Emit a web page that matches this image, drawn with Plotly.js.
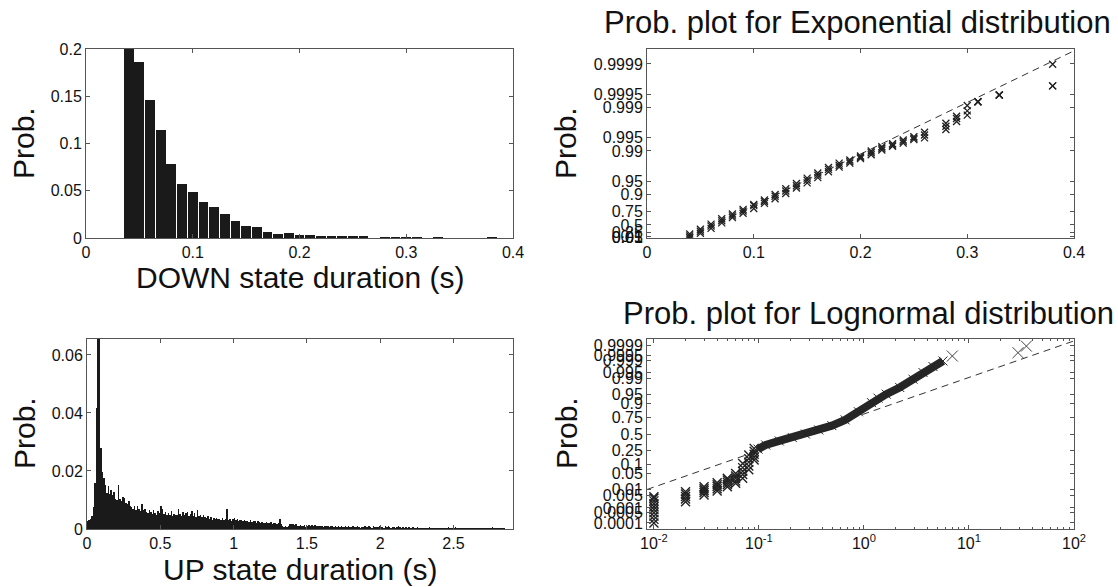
<!DOCTYPE html>
<html><head><meta charset="utf-8">
<script src="https://cdn.plot.ly/plotly-3.0.1.min.js"></script>
<style>html,body{margin:0;padding:0;background:#fff}#chart{width:1118px;height:587px}</style>
</head><body><div id="chart"></div>
<script>
// ---------- DOWN state duration histogram ----------
const downX = [0.04,0.05,0.06,0.07,0.08,0.09,0.10,0.11,0.12,0.13,0.14,0.15,0.16,0.17,0.18,0.19,0.20,0.21,0.22,0.23,0.24,0.25,0.26,0.28,0.29,0.30,0.31,0.33,0.38];
const downProb = [0.200,0.186,0.146,0.114,0.078,0.057,0.049,0.038,0.033,0.025,0.018,0.013,0.012,0.0067,0.0046,0.0050,0.0030,0.0030,0.0020,0.0018,0.0017,0.0017,0.0017,0.0015,0.0015,0.0012,0.0008,0.0008,0.0006];

// ---------- UP state duration histogram (bins of 0.01 s starting at 0.005) ----------
const upBinStart = 0.005, upBinWidth = 0.01;
const upProb = [
0.0028,0.0030,0.0034,0.0045,0.0075,0.0160,0.0416,0.0720,0.0800,0.0280,
0.0195,0.0175,0.0150,0.0125,0.0148,0.0120,0.0135,0.0118,0.0128,0.0105,
0.0100,0.0152,0.0105,0.0095,0.0110,0.0108,0.0090,0.0085,0.0095,0.0080,
0.0075,0.0068,0.0080,0.0065,0.0078,0.0070,0.0062,0.0085,0.0066,0.0070,
0.0060,0.0055,0.0064,0.0058,0.0052,0.0067,0.0055,0.0050,0.0062,0.0054,
0.0078,0.0070,0.0052,0.0060,0.0048,0.0055,0.0050,0.0062,0.0045,0.0052,
0.0050,0.0047,0.0070,0.0052,0.0045,0.0058,0.0048,0.0055,0.0060,0.0046,
0.0052,0.0062,0.0045,0.0055,0.0040,0.0065,0.0044,0.0050,0.0042,0.0048,
0.0040,0.0038,0.0045,0.0036,0.0042,0.0030,0.0039,0.0035,0.0037,0.0034,
0.0035,0.0032,0.0037,0.0030,0.0034,0.0068,0.0031,0.0036,0.0029,0.0033,
0.0038,0.0030,0.0034,0.0028,0.0032,0.0030,0.0027,0.0031,0.0026,0.0029,
0.0025,0.0030,0.0024,0.0028,0.0026,0.0022,0.0027,0.0024,0.0021,0.0025,
0.0022,0.0020,0.0024,0.0019,0.0021,0.0023,0.0018,0.0020,0.0022,0.0017,
0.0020,0.0036,0.0016,0.0010,0.0008,0.0009,0.0007,0.0012,0.0018,0.0016,
0.0017,0.0015,0.0018,0.0012,0.0010,0.0014,0.0009,0.0011,0.0013,0.0008,
0.0012,0.0014,0.0010,0.0013,0.0011,0.0015,0.0009,0.0012,0.0010,0.0011,
0.0010,0.0008,0.0012,0.0009,0.0011,0.0007,0.0010,0.0009,0.0006,0.0010,
0.0008,0.0010,0.0007,0.0009,0.0006,0.0008,0.0010,0.0007,0.0009,0.0006,
0.0007,0.0009,0.0006,0.0008,0.0010,0.0007,0.0005,0.0008,0.0006,0.0009,
0.0006,0.0008,0.0010,0.0007,0.0005,0.0009,0.0006,0.0008,0.0007,0.0012,
0.0006,0.0008,0.0005,0.0009,0.0007,0.0010,0.0006,0.0005,0.0008,0.0006,
0.0005,0.0007,0.0009,0.0006,0.0004,0.0008,0.0005,0.0007,0.0004,0.0006,
0.0005,0.0004,0.0006,0.0003,0.0005,0.0007,0.0004,0.0003,0.0005,0.0004,
0.0003,0.0005,0.0004,0.0006,0.0003,0.0002,0.0004,0.0005,0.0003,0.0004,
0.0004,0.0003,0.0005,0.0002,0.0004,0.0003,0.0006,0.0004,0.0003,0.0005,
0.0004,0.0007,0.0003,0.0004,0.0002,0.0005,0.0003,0.0004,0.0002,0.0003,
0.0004,0.0002,0.0003,0.0005,0.0003,0.0002,0.0004,0.0003,0.0002,0.0003,
0.0003,0.0004,0.0002,0.0003,0.0005,0.0003,0.0006,0.0003,0.0002,0.0004,
0.0003,0.0004,0.0005,0.0003,0.0002,0,0,0,0,0];

// ---------- Exponential probability plot ----------
const expX    = [0.04,0.05,0.06,0.07,0.08,0.09,0.10,0.11,0.12,0.13,0.14,0.15,0.16,0.17,0.18,0.19,0.20,0.21,0.22,0.23,0.24,0.25,0.26,0.28,0.29,0.30,0.31,0.33,0.38];
const expPlo  = [0.01,0.22,0.40,0.55,0.66,0.73,0.79,0.840,0.875,0.905,0.929,0.946,0.959,0.970,0.9765,0.9810,0.9850,0.9878,0.9905,0.9922,0.9934,0.9945,0.9950,0.9968,0.9979,0.9985,0.99926,0.99948,0.99968];
const expPmid = [0.10,0.30,0.47,0.60,0.69,0.76,0.82,0.855,0.890,0.917,0.937,0.953,0.964,0.9735,0.9787,0.9824,0.9860,0.9890,0.9913,0.9927,0.9939,0.9949,0.9957,0.9973,0.9982,0.9988,0.99926,0.99948,0.99968];
const expPhi  = [0.19,0.37,0.52,0.64,0.72,0.78,0.83,0.866,0.900,0.926,0.944,0.958,0.968,0.9760,0.9810,0.9838,0.9870,0.9900,0.9920,0.9932,0.9944,0.9953,0.9963,0.9977,0.9984,0.9991,0.99926,0.99948,0.999898];
const expFitX = [0.0375, 0.4];
const expFitP = [0, 0.99995];
const expTickP = [0.01,0.05,0.1,0.25,0.5,0.75,0.9,0.95,0.99,0.995,0.999,0.9995,0.9999];
const expTickText = ['0.01','0.05','0.1','0.25','0.5','0.75','0.9','0.95','0.99','0.995','0.999','0.9995','0.9999'];

// ---------- Lognormal probability plot ----------
const lnStepX = [0.01,0.01,0.01,0.01,0.01,0.01,0.01,0.01,0.01,0.01,
                 0.02,0.02,0.02,0.02,0.02, 0.03,0.03,0.03,0.03,0.03,
                 0.04,0.04,0.04,0.04,0.04, 0.05,0.05,0.05,0.05,0.05,
                 0.06,0.06,0.06,0.06,0.06, 0.07,0.07,0.07,0.07,0.07,
                 0.08,0.08,0.08,0.08,0.08, 0.09,0.09,0.09,0.09,0.09];
const lnStepP = [0.0001,0.00018,0.0003,0.0005,0.0008,0.0012,0.0018,0.0026,0.0036,0.0044,
                 0.0023,0.0033,0.0045,0.0060,0.0078, 0.0054,0.0072,0.0090,0.0112,0.0139,
                 0.0087,0.0110,0.0140,0.0170,0.0207, 0.0139,0.0175,0.0220,0.0270,0.0320,
                 0.0197,0.0250,0.0320,0.0400,0.0495, 0.032,0.045,0.060,0.080,0.109,
                 0.067,0.090,0.120,0.150,0.190, 0.138,0.165,0.200,0.235,0.274];
const lnCurveX = [0.098,0.116,0.156,0.208,0.277,0.371,0.495,0.662,0.885,1.18,1.36,1.63,2.19,2.93,3.65,4.54,5.65];
const lnCurveP = [0.264,0.323,0.386,0.440,0.500,0.567,0.637,0.722,0.824,0.905,0.933,0.952,0.974,0.989,0.9949,0.9976,0.99886];
const lnOutX = [6.94, 29.3, 35.2];
const lnOutP = [0.99944, 0.99966, 0.99988];
const lnFitX = [0.00859, 100];
const lnFitP = [0.0102, 0.99995];
const lnTickP = [0.0001,0.0005,0.001,0.005,0.01,0.05,0.1,0.25,0.5,0.75,0.9,0.95,0.99,0.995,0.999,0.9995,0.9999];
const lnTickText = ['0.0001','0.0005','0.001','0.005','0.01','0.05','0.1','0.25','0.5','0.75','0.9','0.95','0.99','0.995','0.999','0.9995','0.9999'];
const lnXTickVals = [0.01,0.1,1,10,100];
const lnXTickText = ['10<sup>-2</sup>','10<sup>-1</sup>','10<sup>0</sup>','10<sup>1</sup>','10<sup>2</sup>'];
const lnXMinor = [0.02,0.03,0.04,0.05,0.06,0.07,0.08,0.09,0.2,0.3,0.4,0.5,0.6,0.7,0.8,0.9,2,3,4,5,6,7,8,9,20,30,40,50,60,70,80,90];

// ---------- probability-paper scale transforms ----------
function expScale(p){ return -Math.log(1-p); }
function norminv(p){
  const a=[-3.969683028665376e+01,2.209460984245205e+02,-2.759285104469687e+02,1.383577518672690e+02,-3.066479806614716e+01,2.506628277459239e+00];
  const b=[-5.447609879822406e+01,1.615858368580409e+02,-1.556989798598866e+02,6.680131188771972e+01,-1.328068155288572e+01];
  const c=[-7.784894002430293e-03,-3.223964580411365e-01,-2.400758277161838e+00,-2.549732539343734e+00,4.374664141464968e+00,2.938163982698783e+00];
  const d=[7.784695709041462e-03,3.224671290700398e-01,2.445134137142996e+00,3.754408661907416e+00];
  const pl=0.02425, ph=1-pl; let q,r;
  if(p<pl){q=Math.sqrt(-2*Math.log(p));return (((((c[0]*q+c[1])*q+c[2])*q+c[3])*q+c[4])*q+c[5])/((((d[0]*q+d[1])*q+d[2])*q+d[3])*q+1);}
  if(p>ph){q=Math.sqrt(-2*Math.log(1-p));return -(((((c[0]*q+c[1])*q+c[2])*q+c[3])*q+c[4])*q+c[5])/((((d[0]*q+d[1])*q+d[2])*q+d[3])*q+1);}
  q=p-0.5;r=q*q;return (((((a[0]*r+a[1])*r+a[2])*r+a[3])*r+a[4])*r+a[5])*q/(((((b[0]*r+b[1])*r+b[2])*r+b[3])*r+b[4])*r+1);
}

const FONT = 'Liberation Sans, Arial, Helvetica, sans-serif';
const INK = '#1a1a1a';
const MK = '#222222';
function xm(size, w, col){ return {symbol:'x-thin-open', size:size, color:col||MK, line:{color:col||MK, width:w}}; }

const traces = [
  {type:'bar', x:downX, y:downProb, width:0.0092, marker:{color:INK, line:{width:0}}, xaxis:'x', yaxis:'y'},
  {type:'bar', x0:upBinStart, dx:upBinWidth, y:upProb, width:0.0102, marker:{color:INK, line:{width:0}}, xaxis:'x3', yaxis:'y3'},
  // exponential plot
  {type:'scatter', mode:'lines', x:expFitX, y:expFitP.map(expScale), line:{color:'#333', width:1, dash:'7px,5px'}, xaxis:'x2', yaxis:'y2'},
  {type:'scatter', mode:'markers', x:expX, y:expPlo.map(expScale), marker:xm(7,1.3), xaxis:'x2', yaxis:'y2'},
  {type:'scatter', mode:'markers', x:expX, y:expPmid.map(expScale), marker:xm(7,1.3), xaxis:'x2', yaxis:'y2'},
  {type:'scatter', mode:'markers', x:expX, y:expPhi.map(expScale), marker:xm(7,1.3), xaxis:'x2', yaxis:'y2'},
  // lognormal plot
  {type:'scatter', mode:'lines', x:lnFitX, y:lnFitP.map(norminv), line:{color:'#333', width:1, dash:'7px,5px'}, xaxis:'x4', yaxis:'y4'},
  {type:'scatter', mode:'lines+markers', x:lnCurveX, y:lnCurveP.map(norminv), line:{color:'#262626', width:8}, marker:xm(9,1), xaxis:'x4', yaxis:'y4'},
  {type:'scatter', mode:'markers', x:lnStepX, y:lnStepP.map(norminv), marker:xm(9,1.4), xaxis:'x4', yaxis:'y4'},
  {type:'scatter', mode:'markers', x:lnOutX, y:lnOutP.map(norminv), marker:xm(11,1,'#444'), xaxis:'x4', yaxis:'y4'}
];

const axBase = {showline:true, linecolor:'#555', linewidth:1, mirror:'ticks', ticks:'inside', ticklen:4, tickcolor:'#555',
  showgrid:false, zeroline:false, tickfont:{family:FONT, size:16, color:'#111'}, fixedrange:true};
function ax(o){ return Object.assign({}, axBase, o); }

const W = 1118, H = 587;
const px = v => v/W, py = v => 1 - v/H;

const layout = {
  width:W, height:H, margin:{l:0,r:0,t:0,b:0}, paper_bgcolor:'#fff', plot_bgcolor:'#fff',
  showlegend:false, hovermode:false, bargap:0, font:{family:FONT, color:'#111'},
  xaxis: ax({domain:[px(86),px(513)], anchor:'y', range:[0,0.4], tickmode:'array', tickvals:[0,0.1,0.2,0.3,0.4]}),
  yaxis: ax({domain:[py(238),py(49)], anchor:'x', range:[0,0.2], tickmode:'array', tickvals:[0,0.05,0.1,0.15,0.2]}),
  xaxis2: ax({domain:[px(647),px(1074)], anchor:'y2', range:[0,0.4], tickmode:'array', tickvals:[0,0.1,0.2,0.3,0.4]}),
  yaxis2: ax({domain:[py(238),py(49)], anchor:'x2', range:[0,10], tickmode:'array', tickvals:expTickP.map(expScale), ticktext:expTickText}),
  xaxis3: ax({domain:[px(87),px(513)], anchor:'y3', range:[0,2.906], tickmode:'array', tickvals:[0,0.5,1,1.5,2,2.5]}),
  yaxis3: ax({domain:[py(529),py(339)], anchor:'x3', range:[0,0.0655], tickmode:'array', tickvals:[0,0.02,0.04,0.06]}),
  xaxis4: ax({domain:[px(647),px(1074)], anchor:'y4', type:'log', range:[-2.066,2], tickmode:'array', tickvals:lnXTickVals, ticktext:lnXTickText,
    minor:{tickmode:'array', tickvals:lnXMinor, ticks:'inside', ticklen:2, tickcolor:'#555'}}),
  yaxis4: ax({domain:[py(529),py(339)], anchor:'x4', range:[-3.97,3.97], tickmode:'array', tickvals:lnTickP.map(norminv), ticktext:lnTickText}),
  annotations: [
    {text:'Prob.', x:px(24), y:py(143), textangle:-90},
    {text:'Prob.', x:px(566), y:py(143), textangle:-90},
    {text:'Prob.', x:px(24), y:py(433), textangle:-90},
    {text:'Prob.', x:px(566), y:py(433), textangle:-90},
    {text:'DOWN state duration (s)', x:px(300), y:py(278)},
    {text:'UP state duration (s)', x:px(300), y:py(569)},
    {text:'Prob. plot for Exponential distribution', x:px(1113), xanchor:'right', y:py(22), font:{family:FONT, size:31, color:'#111'}},
    {text:'Prob. plot for Lognormal distribution', x:px(868), y:py(313), font:{family:FONT, size:31, color:'#111'}}
  ].map(a => Object.assign({xref:'paper', yref:'paper', showarrow:false, xanchor:'center', yanchor:'middle',
     font:{family:FONT, size:30, color:'#111'}}, a))
};

Plotly.newPlot('chart', traces, layout, {staticPlot:true, displayModeBar:false});
</script>
</body></html>
